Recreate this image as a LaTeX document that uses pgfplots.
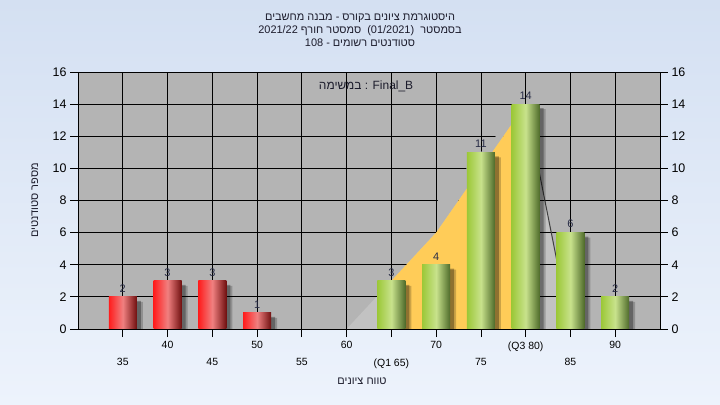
\documentclass[border=0pt]{standalone}
\usepackage{fontspec}
\setmainfont{Liberation Sans}
\newfontfamily\hebfont[Script=Hebrew]{Liberation Sans}
\TeXXeTstate=1
\usepackage{pgfplots}
\pgfplotsset{compat=1.18}
\pgfdeclarelayer{bgpic}
\pgfdeclarelayer{axis background}
\pgfdeclarelayer{lightarea}
\pgfdeclarelayer{axis grid}
\pgfdeclarelayer{axis ticks}
\pgfdeclarelayer{axis lines}
\pgfdeclarelayer{axis tick labels}
\pgfdeclarelayer{axis descriptions}
\pgfdeclarelayer{axis foreground}
\pgfplotsset{
  layers/mylayers/.define layer set={bgpic,axis background,lightarea,axis grid,axis ticks,axis lines,axis tick labels,main,axis descriptions,axis foreground}{
    grid style={/pgfplots/on layer=axis grid},
    tick style={/pgfplots/on layer=axis ticks},
    axis line style={/pgfplots/on layer=axis lines},
    label style={/pgfplots/on layer=axis descriptions},
    legend style={/pgfplots/on layer=axis descriptions},
    title style={/pgfplots/on layer=axis descriptions},
    colorbar style={/pgfplots/on layer=axis descriptions},
    ticklabel style={/pgfplots/on layer=axis tick labels},
    axis background@ style={/pgfplots/on layer=axis background},
    3d box foreground style={/pgfplots/on layer=axis foreground},
  },
}
\definecolor{bgtop}{RGB}{212,224,242}
\definecolor{bgbot}{RGB}{237,243,252}
\definecolor{plotbg}{RGB}{180,180,180}
\definecolor{lightarea}{RGB}{194,194,194}
\definecolor{yellowarea}{RGB}{255,204,88}
\definecolor{titlecol}{RGB}{28,28,44}
\definecolor{labelcol}{RGB}{40,44,70}
\definecolor{redL}{RGB}{255,28,28}
\definecolor{redM}{RGB}{240,128,128}
\definecolor{redR}{RGB}{112,16,16}
\definecolor{grnL}{RGB}{156,200,56}
\definecolor{grnM}{RGB}{200,226,140}
\definecolor{grnR}{RGB}{78,106,42}
\pgfplotsset{
  barbase/.style={ybar, bar width=28bp, bar shift=0pt, draw=none,
    nodes near coords, every node near coord/.append style={font=\fontsize{11}{12}\selectfont, text=labelcol, yshift=1bp}},
  redbar/.style={barbase, left color=redL, right color=redR, middle color=redM},
  grnbar/.style={barbase, left color=grnL, right color=grnR, middle color=grnM},
}
\begin{document}
\begin{tikzpicture}
\pgfsetlayers{bgpic,axis background,lightarea,axis grid,axis ticks,axis lines,axis tick labels,main,axis descriptions,axis foreground}
\begin{pgfonlayer}{bgpic}
\shade[top color=bgtop,bottom color=bgbot] (0,0) rectangle (720bp,405bp);
\end{pgfonlayer}
\node[align=center, text=titlecol, font=\hebfont\fontsize{11}{13}\selectfont] at (360bp,375bp)
 {\beginR היסטוגרמת ציונים בקורס - מבנה מחשבים\endR\\
  \beginR בסמסטר\ \ \beginL(01/2021)\endL\ \ סמסטר חורף \beginL2021/22\endL\endR\\
  \beginR סטודנטים רשומים - \beginL108\endL\endR};
\begin{axis}[
  set layers=mylayers,
  at={(78bp,76bp)}, anchor=south west,
  scale only axis, width=582bp, height=257bp,
  xmin=30, xmax=95, ymin=0, ymax=16,
  axis background/.style={fill=plotbg},
  grid=major,
  major grid style={black, line width=0.8bp},
  axis line style={black, line width=0.8bp},
  tick style={black, line width=0.8bp},
  tick align=outside, major tick length=8bp,
  xtick pos=bottom, ytick pos=left,
  ytick={0,2,...,16},
  xtick={40,50,60,70,80,90},
  xticklabels={40,50,60,70,(Q3 80),90},
  extra x ticks={35,45,55,65,75,85},
  extra x tick labels={35,45,55,(Q1 65),75,85},
  extra x tick style={grid=major, major grid style={black, line width=0.8bp}, tick label style={yshift=-17bp}},
  x tick label style={font=\fontsize{10.5}{12}\selectfont, yshift=-1bp},
  y tick label style={font=\fontsize{12.5}{14}\selectfont},
  /pgf/number format/assume math mode=true,
  xlabel={\hebfont\beginR טווח ציונים\endR},
  xlabel style={at={(axis description cs:0.488,-0.203)}, anchor=center, font=\fontsize{11}{13}\selectfont, text=titlecol},
  ylabel={\hebfont\beginR מספר סטודנטים\endR},
  ylabel style={at={(axis description cs:-0.074,0.5)}, anchor=center, font=\fontsize{11}{13}\selectfont, text=titlecol},
]
% light gray area (under grid)
\addplot[on layer=lightarea, fill=lightarea, draw=none] coordinates {(60,0) (65,3) (70,6) (75,10) (80,14) (85,0)} \closedcycle;
% background-coloured cover
\addplot[fill=plotbg, draw=none] coordinates {(70.2,6.2) (70.2,8) (75,11) (80,14) (75,10)} -- cycle;
% yellow Q1-Q3 area
\addplot[fill=yellowarea, draw=none] coordinates {(65,3) (70,6) (75,10) (80,14)} \closedcycle;
% dark edge
\addplot[draw=black!75, line width=1bp] coordinates {(80,14) (85,0)};
% shadows
\addplot[ybar, bar width=28bp, bar shift=6bp, yshift=-5bp, fill=black, opacity=0.2, draw=none]
  coordinates {(35,2) (40,3) (45,3) (50,1) (65,3) (70,4) (75,11) (80,14) (85,6) (90,2)};
\addplot[ybar, bar width=28bp, bar shift=4bp, yshift=-4bp, fill=black, opacity=0.3, draw=none]
  coordinates {(35,2) (40,3) (45,3) (50,1) (65,3) (70,4) (75,11) (80,14) (85,6) (90,2)};
% red bars
\addplot[redbar] coordinates {(35,2)};
\addplot[redbar] coordinates {(40,3)};
\addplot[redbar] coordinates {(45,3)};
\addplot[redbar] coordinates {(50,1)};
% green bars
\addplot[grnbar] coordinates {(65,3)};
\addplot[grnbar] coordinates {(70,4)};
\addplot[grnbar] coordinates {(75,11)};
\addplot[grnbar] coordinates {(80,14)};
\addplot[grnbar] coordinates {(85,6)};
\addplot[grnbar] coordinates {(90,2)};
\node[font=\fontsize{12}{14}\selectfont, text=titlecol] at (axis description cs:0.495,0.9455)
  {{\hebfont\beginR במשימה\endR} : Final\_B};
\end{axis}
\begin{axis}[
  at={(78bp,76bp)}, anchor=south west,
  scale only axis, width=582bp, height=257bp,
  xmin=30, xmax=95, ymin=0, ymax=16,
  axis x line=none, axis y line*=right,
  axis line style={black, line width=0.8bp},
  tick style={black, line width=0.8bp},
  tick align=outside, major tick length=8bp,
  ytick={0,2,...,16},
  y tick label style={font=\fontsize{12.5}{14}\selectfont},
  /pgf/number format/assume math mode=true,
]
\addplot[draw=none] coordinates {(30,0) (95,16)};
\end{axis}
\pgfresetboundingbox
\path[use as bounding box] (0,0) rectangle (720bp,405bp);
\end{tikzpicture}
\end{document}
